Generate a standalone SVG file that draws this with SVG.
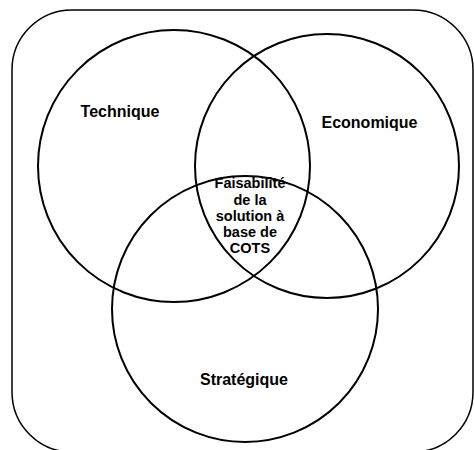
<svg xmlns="http://www.w3.org/2000/svg" width="474" height="450" viewBox="0 0 474 450">
<style>
.frame{fill:none;stroke:#000;stroke-width:1.5}
.set{fill:none;stroke:#000;stroke-width:2}
.lbl{font-family:"Liberation Sans",Arial,sans-serif;font-weight:bold;font-size:16px;fill:#000;text-anchor:middle}
.ctr{font-family:"Liberation Sans",Arial,sans-serif;font-weight:bold;font-size:14.5px;fill:#000;text-anchor:middle}
</style>
<rect width="474" height="450" fill="#fff"/>
<g id="frame"><rect class="frame" x="12" y="10" width="461" height="442" rx="60" ry="60"/></g>
<g id="technique"><circle class="set" cx="174" cy="166" r="136"/><text class="lbl" x="120" y="117">Technique</text></g>
<g id="economique"><circle class="set" cx="327" cy="166" r="132"/><text class="lbl" x="369.5" y="128">Economique</text></g>
<g id="strategique"><circle class="set" cx="245" cy="309" r="133"/><text class="lbl" x="244" y="385">Stratégique</text></g>
<g id="center"><text class="ctr" x="250" y="188">Faisabilité</text><text class="ctr" x="250" y="205">de la</text><text class="ctr" x="250" y="221">solution à</text><text class="ctr" x="250" y="237">base de</text><text class="ctr" x="250" y="253">COTS</text></g>
<g id="connectors"></g>
</svg>
